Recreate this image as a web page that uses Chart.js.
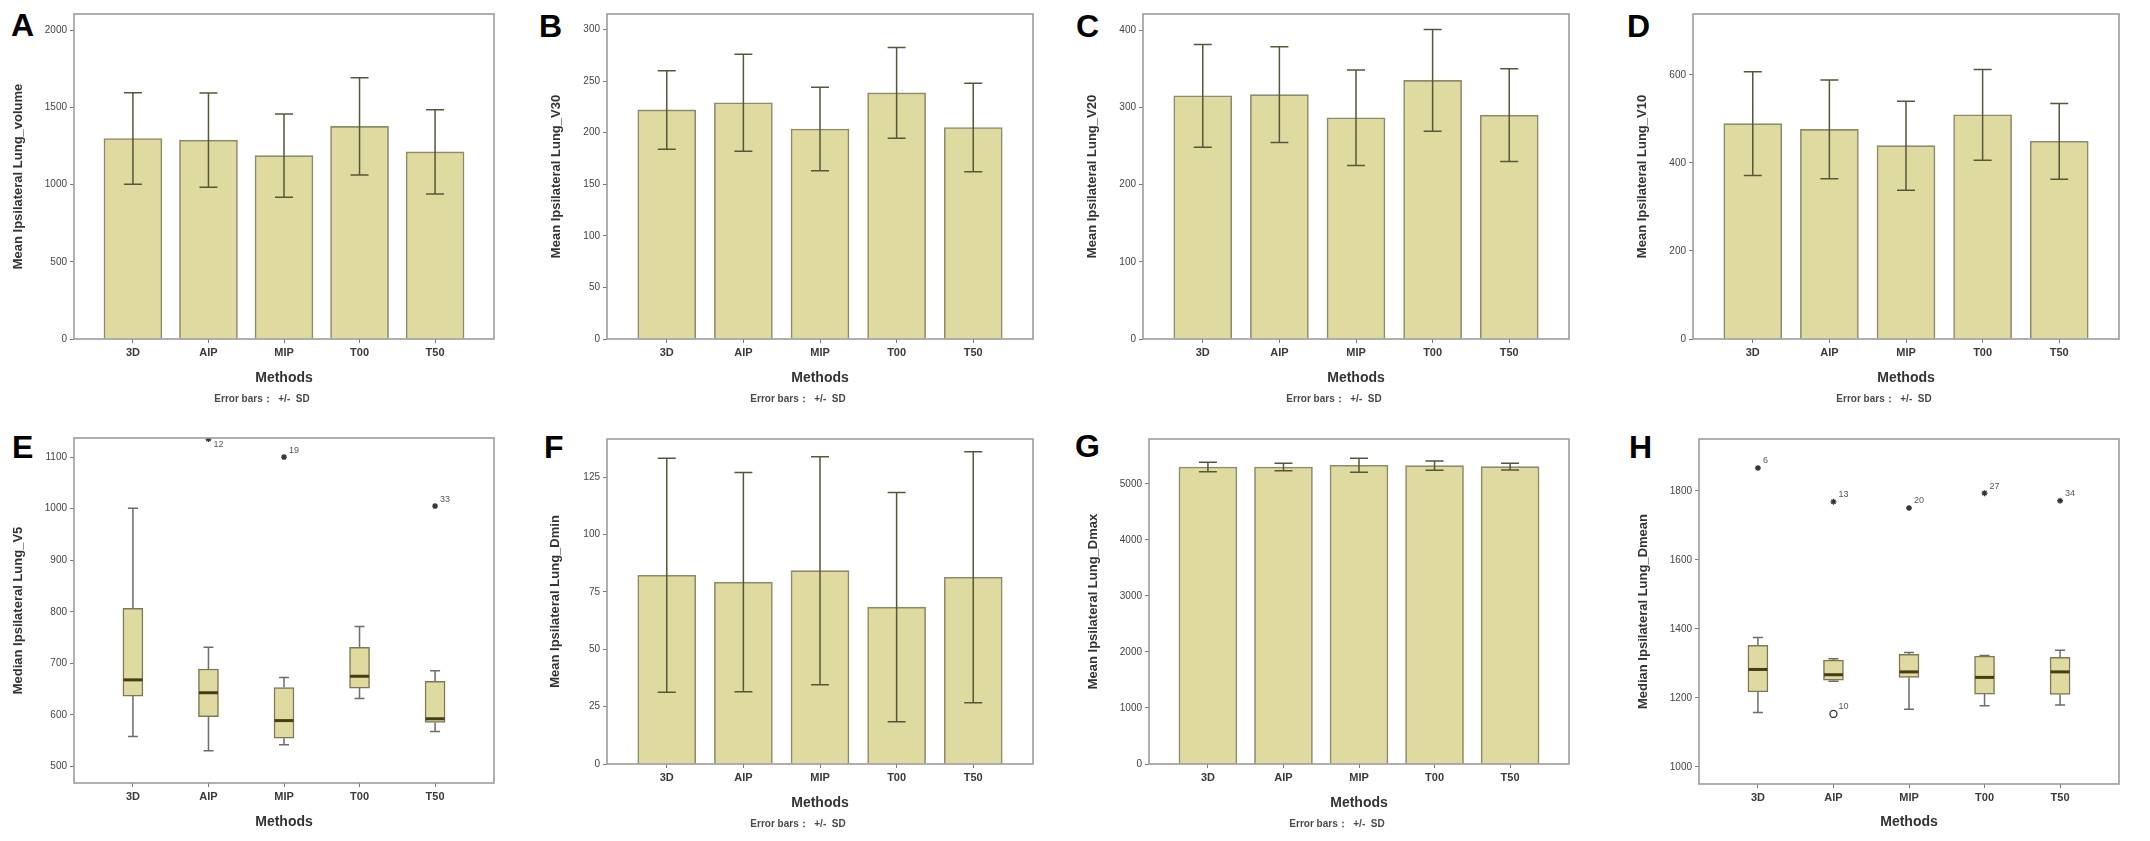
<!DOCTYPE html>
<html><head><meta charset="utf-8">
<script src="https://cdn.jsdelivr.net/npm/chart.js@4.4.1/dist/chart.umd.min.js"></script>
<style>
html,body{margin:0;padding:0;background:#fff;width:2150px;height:841px;overflow:hidden;}
.letter{position:absolute;font:bold 32px 'Liberation Sans',Arial,sans-serif;color:#000;line-height:32px;}
canvas{position:absolute;}
</style></head><body>
<div class="letter" style="left:11px;top:9px">A</div>
<div class="letter" style="left:539px;top:10px">B</div>
<div class="letter" style="left:1076px;top:10px">C</div>
<div class="letter" style="left:1627px;top:10px">D</div>
<div class="letter" style="left:12px;top:431px">E</div>
<div class="letter" style="left:544px;top:431px">F</div>
<div class="letter" style="left:1075px;top:430px">G</div>
<div class="letter" style="left:1629px;top:431px">H</div>
<script>
// ---------------- DATA ----------------
const methods = ['3D', 'AIP', 'MIP', 'T00', 'T50'];

// A: Ipsilateral Lung_volume (mean, SD)
const volumeMean = [1298, 1287, 1187, 1376, 1211];
const volumeSD   = [296, 305, 270, 315, 273];
const volumeTicks = [0, 500, 1000, 1500, 2000];

// B: Ipsilateral Lung_V30
const v30Mean = [222, 229, 203.5, 238.5, 205];
const v30SD   = [38, 47, 40.5, 44, 43];
const v30Ticks = [0, 50, 100, 150, 200, 250, 300];

// C: Ipsilateral Lung_V20
const v20Mean = [315, 316.5, 286.6, 335, 290];
const v20SD   = [66.6, 62, 62, 66, 60];
const v20Ticks = [0, 100, 200, 300, 400];

// D: Ipsilateral Lung_V10
const v10Mean = [489, 476, 439, 509, 449];
const v10SD   = [118, 112, 101, 103, 86];
const v10Ticks = [0, 200, 400, 600];

// E: Ipsilateral Lung_V5 (boxplot)
const v5Min    = [558, 530.5, 542, 632, 568];
const v5Q1     = [636.5, 596.5, 555, 652, 585.5];
const v5Median = [668, 643, 589, 675, 592.6];
const v5Q3     = [806.5, 689, 653, 731, 665];
const v5Max    = [1001, 731, 672.7, 771.6, 685.6];
const v5OutlierMethod = ['AIP', 'MIP', 'T50'];
const v5OutlierValue  = [1135, 1100, 1005];
const v5OutlierCase   = ['12', '19', '33'];
const v5OutlierKind   = ['extreme', 'extreme', 'extreme'];
const v5Ticks = [500, 600, 700, 800, 900, 1000, 1100];

// F: Ipsilateral Lung_Dmin
const dminMean = [82.3, 79.3, 84.3, 68.4, 81.4];
const dminSD   = [51, 47.8, 49.7, 50, 54.7];
const dminTicks = [0, 25, 50, 75, 100, 125];

// G: Ipsilateral Lung_Dmax
const dmaxMean = [5303, 5303, 5333, 5327, 5309];
const dmaxSD   = [83, 68, 125, 83, 60];
const dmaxTicks = [0, 1000, 2000, 3000, 4000, 5000];

// H: Ipsilateral Lung_Dmean (boxplot)
const dmeanMin    = [1157.5, 1248, 1167, 1177, 1179];
const dmeanQ1     = [1217, 1251, 1259, 1210.6, 1209.7];
const dmeanMedian = [1282, 1266.7, 1275, 1259, 1275];
const dmeanQ3     = [1351.7, 1309, 1325.6, 1320.8, 1317];
const dmeanMax    = [1374.9, 1313, 1331.4, 1322.7, 1338];
const dmeanOutlierMethod = ['3D', 'AIP', 'AIP', 'MIP', 'T00', 'T50'];
const dmeanOutlierValue  = [1866, 1768, 1153, 1750, 1793, 1771];
const dmeanOutlierCase   = ['6', '13', '10', '20', '27', '34'];
const dmeanOutlierKind   = ['extreme', 'extreme', 'outlier', 'extreme', 'extreme', 'extreme'];
const dmeanTicks = [1000, 1200, 1400, 1600, 1800];

// ---------------- STYLE / LAYOUT ----------------
const FONT = "'Liberation Sans', Arial, Helvetica, sans-serif";
const BAR_FILL = 'rgb(223,219,160)';
const BAR_EDGE = 'rgb(140,139,108)';
const ERR_COL = 'rgb(88,86,58)';
const FRAME_COL = '#9c9c9c';
const XPAD = 0.78;

// container (cx,cy,cw,ch), plot box (bl,bt,br,bb), y-title centre x (ty), Methods y (mY), caption y (eY)
const geo = {
  A: {cx:0,    cy:0,   cw:537, ch:420, bl:74,   bt:14,  br:494,  bb:339, ty:18,   mY:378, eY:399},
  B: {cx:537,  cy:0,   cw:535, ch:420, bl:607,  bt:14,  br:1033, bb:339, ty:556,  mY:378, eY:399},
  C: {cx:1072, cy:0,   cw:538, ch:420, bl:1143, bt:14,  br:1569, bb:339, ty:1092, mY:378, eY:399},
  D: {cx:1610, cy:0,   cw:540, ch:420, bl:1693, bt:14,  br:2119, bb:339, ty:1642, mY:378, eY:399},
  E: {cx:0,    cy:420, cw:537, ch:421, bl:74,   bt:438, br:494,  bb:783, ty:18,   mY:822},
  F: {cx:537,  cy:420, cw:535, ch:421, bl:607,  bt:439, br:1033, bb:764, ty:555,  mY:803, eY:824},
  G: {cx:1072, cy:420, cw:538, ch:421, bl:1149, bt:439, br:1569, bb:764, ty:1093, mY:803, eY:824},
  H: {cx:1610, cy:420, cw:540, ch:421, bl:1699, bt:439, br:2119, bb:784, ty:1643, mY:822}
};

function mount(g) {
  const c = document.createElement('canvas');
  c.width = g.cw; c.height = g.ch;
  c.style.left = g.cx + 'px'; c.style.top = g.cy + 'px';
  document.body.appendChild(c);
  return c;
}

function axesOptions(g, yMin, yMax, yTicks, yTitle) {
  const grid = {display:true, drawOnChartArea:false, drawTicks:true, tickLength:4, color:'#7a7a7a', lineWidth:1, offset:false};
  return {
    responsive:false, animation:false, events:[],
    layout:{padding:{left:0, right:g.cx + g.cw - g.br, top:g.bt - g.cy, bottom:0}},
    plugins:{legend:{display:false}, tooltip:{enabled:false}},
    scales:{
      x:{
        type:'linear', offset:false, bounds:'ticks', min:1 - XPAD, max:5 + XPAD,
        afterBuildTicks:s => { s.ticks = methods.map((m, i) => ({value:i + 1})); },
        afterFit:s => { s.height = g.cy + g.ch - g.bb; },
        ticks:{callback:v => methods[Math.round(v) - 1], font:{family:FONT, size:11, weight:'bold'}, color:'#3a3a3a', padding:3, maxRotation:0, autoSkip:false},
        grid:grid, border:{display:false},
        title:{display:true, text:'Methods', color:'#333', font:{family:FONT, size:14, weight:'bold'},
               padding:{top:0, bottom:(g.cy + g.ch) - g.mY - 8.4}}
      },
      y:{
        type:'linear', offset:false, min:yMin, max:yMax,
        afterBuildTicks:s => { s.ticks = yTicks.map(v => ({value:v})); },
        afterFit:s => { s.width = g.bl - g.cx; },
        ticks:{callback:v => String(v), font:{family:FONT, size:10}, color:'#444', padding:3},
        grid:grid, border:{display:false},
        title:{display:true, text:yTitle, color:'#333', font:{family:FONT, size:13, weight:'bold'},
               padding:{top:g.ty - g.cx - 7.8, bottom:0}}
      }
    }
  };
}

const framePlugin = {
  id:'frame',
  afterDatasetsDraw(chart) {
    const {ctx, chartArea:a} = chart;
    ctx.save();
    ctx.strokeStyle = FRAME_COL; ctx.lineWidth = 1.6;
    ctx.strokeRect(a.left, a.top, a.right - a.left, a.bottom - a.top);
    ctx.restore();
  }
};

function errorBarPlugin(means, sds) {
  return {
    id:'errbars',
    afterDatasetsDraw(chart) {
      const x = chart.scales.x, y = chart.scales.y, ctx = chart.ctx;
      ctx.save();
      ctx.strokeStyle = ERR_COL; ctx.lineWidth = 1.5;
      means.forEach((m, i) => {
        const px = x.getPixelForValue(i + 1);
        const hi = y.getPixelForValue(m + sds[i]);
        const lo = y.getPixelForValue(m - sds[i]);
        ctx.beginPath();
        ctx.moveTo(px, hi); ctx.lineTo(px, lo);
        ctx.moveTo(px - 9, hi); ctx.lineTo(px + 9, hi);
        ctx.moveTo(px - 9, lo); ctx.lineTo(px + 9, lo);
        ctx.stroke();
      });
      ctx.restore();
    }
  };
}

function captionPlugin(g) {
  return {
    id:'caption',
    afterDraw(chart) {
      const {ctx, chartArea:a} = chart;
      ctx.save();
      ctx.font = 'bold 10px ' + FONT;
      ctx.fillStyle = '#4a4a4a';
      ctx.textAlign = 'center'; ctx.textBaseline = 'middle';
      ctx.fillText('Error bars：  +/-  SD', (a.left + a.right) / 2 - 22, g.eY - g.cy);
      ctx.restore();
    }
  };
}

function barPanel(g, means, sds, ticks, yMax, yTitle) {
  new Chart(mount(g), {
    type:'bar',
    data:{datasets:[{
      data:methods.map((m, i) => ({x:i + 1, y:means[i]})),
      backgroundColor:BAR_FILL, borderColor:BAR_EDGE, borderWidth:1.6, barThickness:58
    }]},
    options:axesOptions(g, 0, yMax, ticks, yTitle),
    plugins:[framePlugin, errorBarPlugin(means, sds), captionPlugin(g)]
  });
}

function boxPlugin(mins, q1, med, q3, maxs, outM, outV, outC) {
  return {
    id:'boxes',
    beforeDatasetsDraw(chart) {
      const x = chart.scales.x, y = chart.scales.y, ctx = chart.ctx;
      ctx.save();
      ctx.strokeStyle = '#6c6c6c'; ctx.lineWidth = 1.5;
      methods.forEach((m, i) => {
        const px = x.getPixelForValue(i + 1);
        const pMax = y.getPixelForValue(maxs[i]), pQ3 = y.getPixelForValue(q3[i]);
        const pMin = y.getPixelForValue(mins[i]), pQ1 = y.getPixelForValue(q1[i]);
        ctx.beginPath();
        ctx.moveTo(px, pQ3); ctx.lineTo(px, pMax);
        ctx.moveTo(px - 5, pMax); ctx.lineTo(px + 5, pMax);
        ctx.moveTo(px, pQ1); ctx.lineTo(px, pMin);
        ctx.moveTo(px - 5, pMin); ctx.lineTo(px + 5, pMin);
        ctx.stroke();
      });
      ctx.restore();
    },
    afterDatasetsDraw(chart) {
      const x = chart.scales.x, y = chart.scales.y, ctx = chart.ctx, top = chart.chartArea.top;
      ctx.save();
      ctx.strokeStyle = 'rgb(72,60,22)'; ctx.lineWidth = 3;
      methods.forEach((m, i) => {
        const px = x.getPixelForValue(i + 1), py = y.getPixelForValue(med[i]);
        ctx.beginPath(); ctx.moveTo(px - 9.5, py); ctx.lineTo(px + 9.5, py); ctx.stroke();
      });
      ctx.font = '9px ' + FONT; ctx.fillStyle = '#555';
      ctx.textAlign = 'left'; ctx.textBaseline = 'middle';
      outM.forEach((m, k) => {
        const px = x.getPixelForValue(methods.indexOf(m) + 1), py = y.getPixelForValue(outV[k]);
        const ly = (py - 7 < top + 4) ? py + 5 : py - 7;
        ctx.fillText(outC[k], px + 5, ly);
      });
      ctx.restore();
    }
  };
}

function boxPanel(g, mins, q1, med, q3, maxs, outM, outV, outC, outK, ticks, yMin, yMax, yTitle) {
  new Chart(mount(g), {
    type:'bar',
    data:{datasets:[
      {type:'bar', data:methods.map((m, i) => ({x:i + 1, y:[q1[i], q3[i]]})),
       backgroundColor:BAR_FILL, borderColor:'rgb(122,120,88)', borderWidth:1.5, borderSkipped:false, barThickness:20},
      {type:'scatter', data:outM.map((m, k) => ({x:methods.indexOf(m) + 1, y:outV[k]})),
       pointStyle:outK.map(k => k === 'extreme' ? 'star' : 'circle'),
       pointRadius:outK.map(k => k === 'extreme' ? 3 : 3.5),
       borderColor:'#333', backgroundColor:'rgba(0,0,0,0)', borderWidth:1.3}
    ]},
    options:axesOptions(g, yMin, yMax, ticks, yTitle),
    plugins:[framePlugin, boxPlugin(mins, q1, med, q3, maxs, outM, outV, outC)]
  });
}

barPanel(geo.A, volumeMean, volumeSD, volumeTicks, 2104, 'Mean Ipsilateral Lung_volume');
barPanel(geo.B, v30Mean, v30SD, v30Ticks, 315, 'Mean Ipsilateral Lung_V30');
barPanel(geo.C, v20Mean, v20SD, v20Ticks, 421, 'Mean Ipsilateral Lung_V20');
barPanel(geo.D, v10Mean, v10SD, v10Ticks, 738, 'Mean Ipsilateral Lung_V10');
boxPanel(geo.E, v5Min, v5Q1, v5Median, v5Q3, v5Max, v5OutlierMethod, v5OutlierValue, v5OutlierCase, v5OutlierKind, v5Ticks, 468, 1137, 'Median Ipsilateral Lung_V5');
barPanel(geo.F, dminMean, dminSD, dminTicks, 141.7, 'Mean Ipsilateral Lung_Dmin');
barPanel(geo.G, dmaxMean, dmaxSD, dmaxTicks, 5803, 'Mean Ipsilateral Lung_Dmax');
boxPanel(geo.H, dmeanMin, dmeanQ1, dmeanMedian, dmeanQ3, dmeanMax, dmeanOutlierMethod, dmeanOutlierValue, dmeanOutlierCase, dmeanOutlierKind, dmeanTicks, 950, 1950, 'Median Ipsilateral Lung_Dmean');
</script>
</body></html>
